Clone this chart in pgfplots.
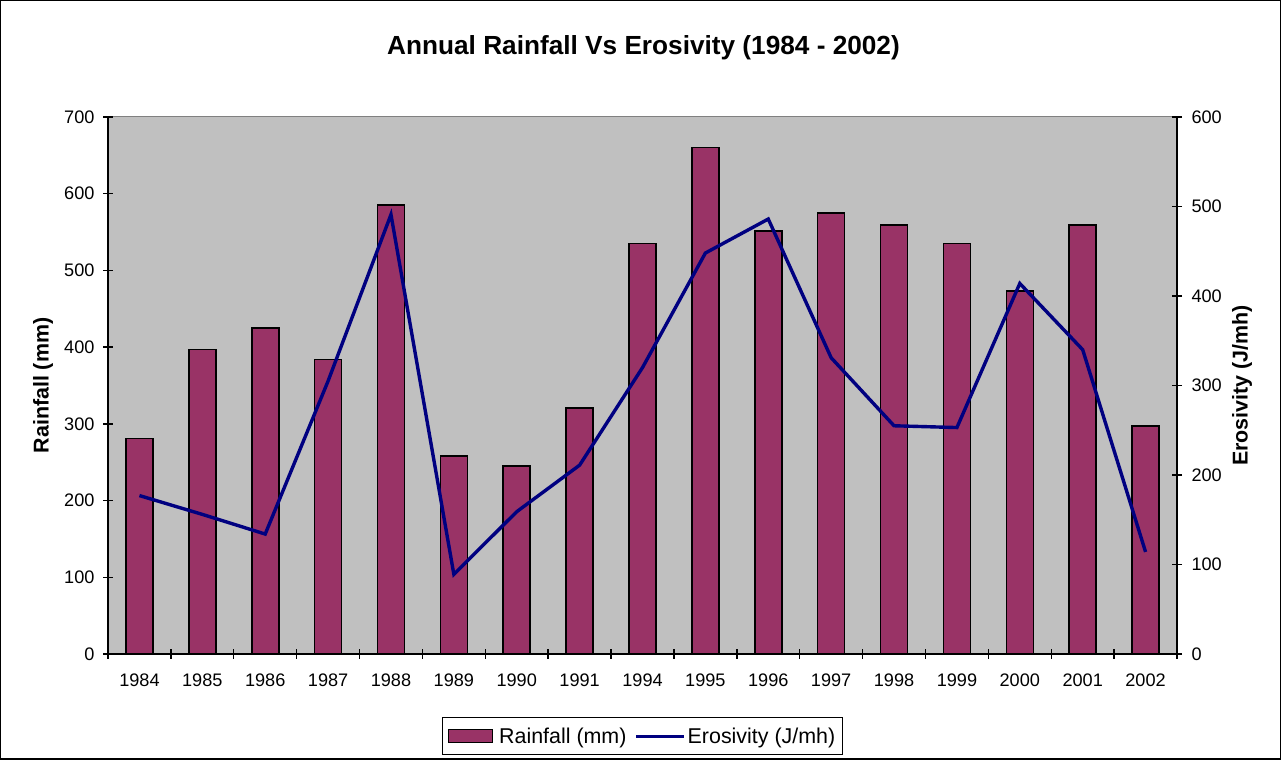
\documentclass[border=0pt]{standalone}
\usepackage{pgfplots}
\pgfplotsset{compat=1.18}
\usepackage{fontspec}
\setmainfont{Liberation Sans}
\definecolor{barc}{HTML}{993366}
\definecolor{linec}{HTML}{000080}
\definecolor{plotbg}{HTML}{C0C0C0}
\begin{document}
\begin{tikzpicture}[x=1bp,y=1bp]
\useasboundingbox (0,0) rectangle (1281,760);
\draw[line width=1.5bp] (0.75,0.75) rectangle (1280.25,759.25);
\node[font=\fontsize{26.3}{26.3}\selectfont\bfseries] at (643.5,712) {Annual Rainfall Vs Erosivity (1984 - 2002)};
\pgfplotsset{
  every axis/.append style={
    scale only axis, width=1069bp, height=537bp,
    at={(108bp,106bp)}, anchor=south west,
    xmin=-0.5, xmax=16.5,
    tick align=center,
    major tick length=10bp, minor tick length=10bp,
    tick style={line width=1.4bp, black},
    axis line style={line width=1.4bp, black},
    tick label style={font=\fontsize{18.2}{18.2}\selectfont},
    /pgf/number format/assume math mode=true,
    label style={font=\fontsize{21.5}{21.5}\selectfont\bfseries},
  }
}
\begin{axis}[
  axis x line*=bottom, axis y line*=left,
  axis background/.style={fill=plotbg, draw=gray, line width=1bp},
  ymin=0, ymax=700, ytick={0,100,...,700},
  xtick={0,...,16},
  xticklabels={1984,1985,1986,1987,1988,1989,1990,1991,1994,1995,1996,1997,1998,1999,2000,2001,2002},
  xticklabel style={yshift=-11bp},
  yticklabel style={xshift=-5bp},
  major x tick style={draw=none},
  minor xtick={-0.5,0.5,...,16.5},
  ylabel={Rainfall (mm)},
  ylabel style={at={(axis description cs:-0.0608,0.5)}, anchor=center},
]
\addplot[ybar, bar width=27bp, fill=barc, draw=black, line width=1.6bp] coordinates {
(0,281) (1,397) (2,425) (3,384) (4,585) (5,258) (6,245) (7,321) (8,535) (9,660) (10,551) (11,575) (12,559) (13,535) (14,473) (15,559) (16,297)
};
\end{axis}
\begin{axis}[
  axis x line=none, axis y line*=right,
  ymin=0, ymax=600, ytick={0,100,...,600},
  yticklabel style={xshift=6bp},
  ylabel={Erosivity (J/mh)},
  ylabel style={at={(axis description cs:1.0608,0.5)}, anchor=center, rotate=0},
  legend columns=2,
  legend style={at={(0.5,-0.117)}, anchor=north, draw=black, line width=1.4bp,
    font=\fontsize{21.5}{21.5}\selectfont, inner xsep=5bp, inner ysep=8bp,
    /tikz/every even column/.append style={column sep=2bp}},
]
\addlegendimage{legend image code/.code={\draw[fill=barc,draw=black,line width=1.4bp] (0bp,-6.5bp) rectangle (44bp,6.5bp); \path (48bp,0bp);}}
\addlegendentry{Rainfall (mm)}
\addplot[linec, line width=3.4bp, mark=none,
  legend image code/.code={\path (-4bp,0bp); \draw[linec,line width=3bp] (0bp,0bp) -- (48bp,0bp);}] coordinates {
(0,177) (1,156) (2,134) (3,305) (4,491) (5,89) (6,159) (7,211) (8,320) (9,448) (10,486) (11,331) (12,255) (13,253) (14,414) (15,340) (16,114)
};
\addlegendentry{Erosivity (J/mh)}
\end{axis}
\end{tikzpicture}
\end{document}
